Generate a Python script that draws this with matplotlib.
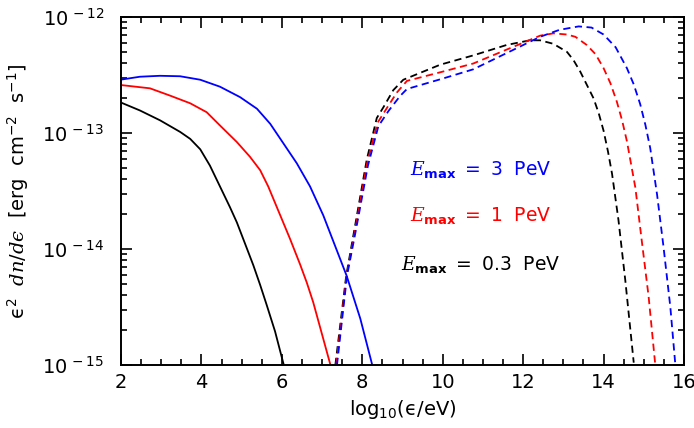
import numpy as np
import matplotlib.pyplot as plt
from matplotlib.ticker import MultipleLocator, FixedLocator, FixedFormatter, LogLocator, NullFormatter

plt.rcParams['mathtext.fontset'] = 'custom'
plt.rcParams['mathtext.rm'] = 'DejaVu Sans'
plt.rcParams['mathtext.bf'] = 'DejaVu Sans:bold'
plt.rcParams['mathtext.it'] = 'DejaVu Serif:italic'
plt.rcParams['font.family'] = 'DejaVu Sans'

# solid curves: log10(eps/eV) and log10 of the flux
x_blue = [1.98, 2.47, 2.97, 3.47, 3.97, 4.46, 4.96, 5.38, 5.71, 6.04, 6.37, 6.70, 7.03, 7.61, 7.95, 8.24]
y_blue = [-12.54, -12.514, -12.506, -12.51, -12.54, -12.60, -12.69, -12.79, -12.92, -13.09, -13.26, -13.46,
          -13.71, -14.23, -14.60, -14.99]
x_red = [1.98, 2.72, 3.22, 3.72, 4.13, 4.46, 4.88, 5.21, 5.46, 5.66, 5.96, 6.2, 6.45, 6.62, 6.78, 7.20]
y_red = [-12.585, -12.614, -12.677, -12.743, -12.82, -12.934, -13.077, -13.206, -13.32, -13.46, -13.71, -13.91,
         -14.13, -14.29, -14.46, -14.99]
x_black = [1.98, 2.47, 2.97, 3.47, 3.72, 3.97, 4.21, 4.46, 4.71, 4.88, 5.08, 5.29, 5.46, 5.62, 5.83, 6.04]
y_black = [-12.734, -12.805, -12.89, -12.99, -13.05, -13.14, -13.28, -13.46, -13.64, -13.77, -13.95, -14.14,
           -14.31, -14.48, -14.71, -14.99]

# dashed curves
xd_black = [7.33, 7.6, 7.82, 8.11, 8.36, 8.52, 8.77, 9.02, 9.94, 10.76, 11.59, 12.17, 12.42, 12.75,
            13.09, 13.25, 13.42, 13.75, 13.88, 14.0, 14.11, 14.21, 14.37, 14.54, 14.75]
yd_black = [-15.0, -14.23, -13.80, -13.23, -12.87, -12.78, -12.63, -12.54, -12.41, -12.33, -12.24, -12.20, -12.20,
            -12.23, -12.30, -12.37, -12.47, -12.70, -12.83, -12.98, -13.16, -13.35, -13.75, -14.27, -14.98]
xd_red = [7.35, 7.61, 7.83, 8.12, 8.38, 8.6, 8.86, 9.11, 10.0, 10.76, 11.59, 12.42, 12.75, 13.09, 13.3,
          13.58, 13.8, 14.0, 14.17, 14.33, 14.46, 14.58, 14.79, 14.95, 15.12, 15.28]
yd_red = [-15.0, -14.23, -13.82, -13.26, -12.91, -12.79, -12.65, -12.55, -12.47, -12.40, -12.28, -12.16, -12.14,
          -12.15, -12.17, -12.24, -12.32, -12.44, -12.57, -12.73, -12.89, -13.07, -13.47, -13.93, -14.41, -14.98]
xd_blue = [7.37, 7.62, 7.85, 8.14, 8.4, 8.65, 8.94, 9.11, 10.0, 10.76, 11.59, 12.42, 12.9, 13.38, 13.7,
           14.0, 14.3, 14.58, 14.75, 14.91, 15.04, 15.16, 15.33, 15.49, 15.66, 15.78]
yd_blue = [-15.0, -14.23, -13.82, -13.28, -12.94, -12.81, -12.68, -12.62, -12.53, -12.45, -12.31, -12.17, -12.11,
           -12.08, -12.09, -12.15, -12.26, -12.44, -12.58, -12.75, -12.93, -13.13, -13.53, -13.98, -14.50, -14.98]

labels = [r'$\mathit{E}_{\mathbf{max}}\ =\ \mathrm{3\ \ PeV}$',
          r'$\mathit{E}_{\mathbf{max}}\ =\ \mathrm{1\ \ PeV}$',
          r'$\mathit{E}_{\mathbf{max}}\ =\ \mathrm{0.3\ \ PeV}$']
label_colors = ['blue', 'red', 'black']
label_logy = [-13.31, -13.71, -14.13]

fig = plt.figure(figsize=(6.94, 4.28), dpi=100)
ax = fig.add_axes([0.1744, 0.1472, 0.8112, 0.8128])

lw = 1.3
for xs, ys, c in [(x_blue, y_blue, 'blue'), (x_red, y_red, 'red'), (x_black, y_black, 'black')]:
    ax.plot(xs, 10**np.array(ys), color=c, lw=lw)
for xs, ys, c in [(xd_black, yd_black, 'black'), (xd_red, yd_red, 'red'), (xd_blue, yd_blue, 'blue')]:
    ax.plot(xs, 10**np.array(ys), color=c, lw=lw, dashes=(4, 2.5))

for t, c, ly in zip(labels, label_colors, label_logy):
    ax.text(10.95, 10**ly, t, color=c, fontsize=13.5, ha='center', va='center')

ax.set_yscale('log')
ax.set_xlim(2, 16)
ax.set_ylim(1e-15, 1e-12)

ax.xaxis.set_major_locator(MultipleLocator(2))
ax.xaxis.set_minor_locator(MultipleLocator(0.5))
ax.yaxis.set_major_locator(FixedLocator([1e-15, 1e-14, 1e-13, 1e-12]))
ax.yaxis.set_major_formatter(FixedFormatter([r'$\mathrm{10^{\,-15}}$', r'$\mathrm{10^{\,-14}}$',
                                             r'$\mathrm{10^{\,-13}}$', r'$\mathrm{10^{\,-12}}$']))
ax.yaxis.set_minor_locator(LogLocator(base=10, subs=np.arange(2, 10)))
ax.yaxis.set_minor_formatter(NullFormatter())
ax.tick_params(which='both', direction='in', top=True, right=True, width=1.2, labelsize=14)
ax.tick_params(which='major', length=8)
ax.tick_params(which='minor', length=4)
ax.tick_params(axis='x', pad=6)
ax.tick_params(axis='y', pad=12)
for s in ax.spines.values():
    s.set_linewidth(1.4)

ax.set_xlabel('$\\mathrm{log_{10}(\u03f5/eV)}$', fontsize=14, labelpad=4)
ax.set_ylabel('$\\mathrm{\u03f5^{2}}\\ \\ \\mathit{dn/d\u03f5}\\ \\ \\mathrm{[erg\\ \\ cm^{-2}\\ \\ s^{-1}]}$',
              fontsize=14, labelpad=8)

fig.savefig('out.png', dpi=100)
